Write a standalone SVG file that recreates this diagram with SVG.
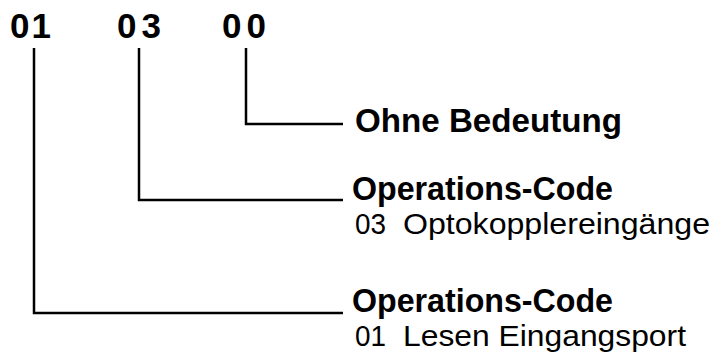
<svg xmlns="http://www.w3.org/2000/svg" width="715" height="356" viewBox="0 0 715 356">
<style>
.num{font-family:"Liberation Sans",Arial,sans-serif;font-weight:bold;font-size:35px;fill:#000}
.hd{font-family:"Liberation Sans",Arial,sans-serif;font-weight:bold;font-size:34px;fill:#000}
.tx{font-family:"Liberation Sans",Arial,sans-serif;font-size:29px;fill:#000}
.ln{fill:none;stroke:#000;stroke-width:2.5}
</style>
<rect width="715" height="356" fill="#fff"/>
<g id="digits">
<text class="num" x="10" y="38" textLength="41" lengthAdjust="spacing">01</text>
<text class="num" x="117" y="38" textLength="44" lengthAdjust="spacing">03</text>
<text class="num" x="222" y="38" textLength="44" lengthAdjust="spacing">00</text>
</g>
<g id="connectors">
<polyline class="ln" points="246,48 246,124 343,124"/>
<polyline class="ln" points="139,48 139,200 343,200"/>
<polyline class="ln" points="34,48 34,313 343,313"/>
</g>
<g id="node-ohne">
<text class="hd" x="355" y="132" textLength="267" lengthAdjust="spacingAndGlyphs">Ohne Bedeutung</text>
</g>
<g id="node-op03">
<text class="hd" x="352" y="200" textLength="261" lengthAdjust="spacingAndGlyphs">Operations-Code</text>
<text class="tx" x="355" y="234" textLength="31" lengthAdjust="spacingAndGlyphs">03</text>
<text class="tx" x="403" y="234" textLength="307" lengthAdjust="spacingAndGlyphs">Optokopplereingänge</text>
</g>
<g id="node-op01">
<text class="hd" x="352" y="312" textLength="261" lengthAdjust="spacingAndGlyphs">Operations-Code</text>
<text class="tx" x="355" y="346" textLength="31" lengthAdjust="spacingAndGlyphs">01</text>
<text class="tx" x="403" y="346" textLength="283" lengthAdjust="spacingAndGlyphs">Lesen Eingangsport</text>
</g>
</svg>
